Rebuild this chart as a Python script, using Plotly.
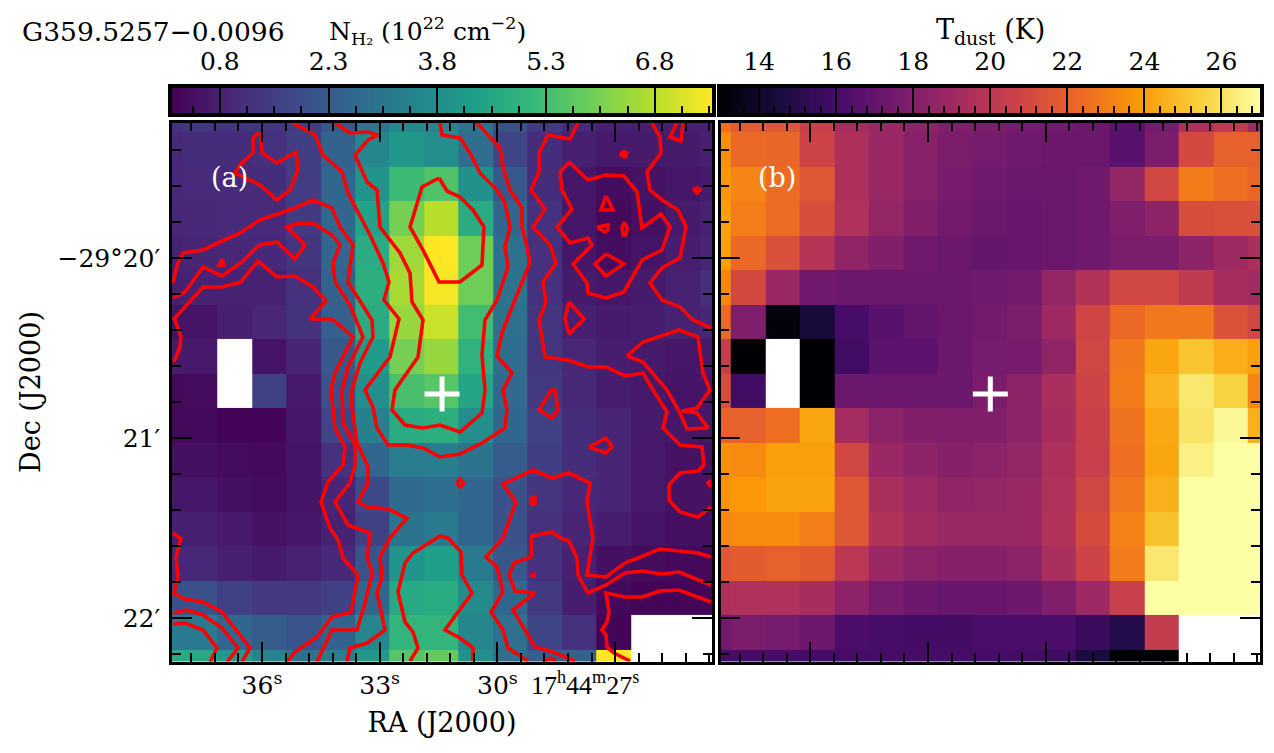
import plotly.graph_objects as go

FONT = "DejaVu Serif"
PAGE_W, PAGE_H = 1274, 753
BODY = 8                       # page margin the browser puts round the figure
W, H = PAGE_W - BODY, PAGE_H - BODY

# Sky positions of the map cells (RA seconds of 17h44m, Dec arcmin from -29d20')
ra_cells = [38.46, 37.58, 36.70, 35.82, 34.94, 34.06, 33.18, 32.31, 31.43, 30.55, 29.67, 28.79, 27.91, 27.03, 26.15, 25.27, 24.39]
dec_cells = [0.794, 0.603, 0.411, 0.219, 0.028, -0.164, -0.356, -0.547, -0.739, -0.931, -1.122, -1.314, -1.506, -1.697, -1.889, -2.081, -2.272]

n = None
nh2 = [
 [1.2,1.35,1.3,1.3,1.5,2.2,3.1,3.7,3.6,3.0,2.0,1.4,1.0,.8,.75,.75,.8],
 [1.0,1.1,1.1,1.2,1.55,2.5,3.6,4.1,3.8,2.8,1.7,1.1,.8,.65,.7,.7,.8],
 [1.0,1.05,1.05,1.1,1.5,2.6,4.0,5.2,5.5,3.9,2.2,1.1,.6,.4,.5,.6,.7],
 [.95,1.0,1.05,1.05,1.45,2.6,4.4,6.0,6.8,4.7,2.6,1.2,.6,.3,.45,.7,.85],
 [.85,.9,.95,1.0,1.3,2.6,4.7,6.5,7.6,5.9,2.9,1.2,.6,.4,.55,.75,.9],
 [.8,.85,.85,.85,1.2,2.5,4.8,6.6,7.5,5.9,3.0,1.2,.7,.6,.7,.85,1.15],
 [.5,.55,.8,.95,1.25,2.4,4.7,6.4,7.0,5.3,2.9,1.3,.8,.7,.75,.85,.9],
 [.7,.65,n,.55,.9,2.2,4.2,6.0,6.4,4.9,2.8,1.3,.95,.75,.7,.6,.65],
 [.3,.35,n,1.6,.65,2.0,3.8,5.4,5.6,4.5,2.7,1.4,1.0,.75,.65,.55,.6],
 [.3,.3,.2,.2,.6,1.7,3.4,4.7,4.8,3.8,2.6,1.6,1.1,.9,.7,.6,.6],
 [.45,.45,.35,.3,.55,1.2,2.6,3.3,3.3,3.0,2.3,1.55,1.1,.9,.65,.5,.5],
 [.6,.6,.45,.35,.55,.9,1.8,2.7,2.8,2.6,2.0,1.3,1.0,.9,.65,.5,.5],
 [.8,.8,.65,.5,.6,.85,1.6,3.0,3.2,2.6,2.0,1.2,.9,.75,.55,.45,.45],
 [1.0,1.0,.8,.7,.85,1.0,2.1,4.0,4.3,3.2,2.2,1.2,.8,.45,.35,.3,.3],
 [2.0,2.0,1.6,1.4,1.4,1.6,2.6,4.6,4.7,3.7,2.6,1.4,.75,.3,.2,.2,.2],
 [3.2,3.2,2.6,2.3,2.1,2.5,3.6,5.0,5.0,3.6,2.9,1.7,1.2,.2,n,n,n],
 [4.7,4.6,4.2,3.5,2.9,3.3,4.1,5.6,5.8,3.9,2.8,2.3,2.5,9.0,n,n,n],
]
tdust = [
 [22.5,21.8,21.6,20.5,19.3,18.8,18.4,18.0,17.8,17.6,17.4,17.2,16.6,17.6,19.5,20.2,19.0],
 [23.5,22.3,22.2,20.7,19.5,18.8,18.2,17.8,17.6,17.4,17.3,17.2,16.6,17.8,21.0,22.0,22.0],
 [23.8,23.2,22.4,21.6,19.5,18.8,18.2,17.7,17.4,17.2,17.2,17.4,18.6,20.9,22.9,22.5,22.2],
 [24.0,23.0,22.4,21.2,19.6,18.6,18.0,17.5,17.2,17.1,17.2,17.4,17.9,18.4,21.2,21.3,21.3],
 [24.0,22.3,21.3,19.8,18.5,18.0,17.4,17.2,17.0,17.1,17.2,17.4,17.8,17.8,18.4,19.0,19.4],
 [23.3,21.0,18.8,17.4,17.2,17.2,17.2,17.2,17.4,17.5,18.6,19.7,20.9,20.9,20.2,19.3,19.1],
 [22.3,17.9,13.2,14.4,16.0,16.6,17.0,17.2,17.5,17.8,19.0,20.8,22.3,22.8,22.8,21.4,20.9],
 [20.4,13.0,n,13.0,15.8,16.7,16.7,17.2,17.6,17.7,18.5,20.9,22.8,24.2,25.1,24.4,24.0],
 [21.2,15.8,n,13.0,17.2,17.2,17.2,17.2,17.8,18.4,19.4,20.7,22.9,24.6,26.2,25.5,23.2],
 [22.0,22.0,22.5,24.2,19.2,18.3,18.0,17.9,18.0,18.4,19.3,20.6,22.6,24.3,26.1,26.8,24.5],
 [23.5,23.4,24.0,24.0,20.9,18.8,18.4,18.1,18.3,18.6,19.5,20.5,22.5,24.2,26.5,27.0,27.0],
 [23.6,23.8,24.1,24.1,21.6,19.4,18.9,18.5,18.6,18.8,19.6,20.9,22.8,24.5,27.0,27.0,27.0],
 [23.2,23.4,23.4,23.0,21.6,19.7,19.1,18.8,18.8,18.8,19.7,21.1,23.1,25.0,27.0,27.0,27.0],
 [21.6,21.8,22.0,21.8,20.0,18.8,18.3,18.1,18.1,18.3,19.4,20.7,22.9,26.2,27.0,27.0,27.0],
 [19.5,19.6,19.6,19.3,18.4,17.6,17.3,17.1,17.1,17.3,17.9,18.9,20.5,27.0,27.0,27.0,27.0],
 [17.4,17.8,17.6,17.3,16.2,16.0,15.9,15.9,16.2,16.2,16.2,15.6,14.9,20.3,n,n,n],
 [16.0,16.0,16.0,16.0,16.0,16.0,16.0,16.0,16.0,15.9,15.7,14.5,13.0,13.0,n,n,n],
]

# Contour vertices in map sub-pixels (1/3 arcsec) from the map's top-left corner
contour_paths = [
 [(121,1),(143,13),(151,33),(170,50),(176,71),(198,113),(211,141),(217,160),(212,178),(227,197),(218,235),(193,268),(201,285),(205,306),(216,323),(235,323),(251,326),(268,335),(288,332),(310,321),(333,306),(335,288),(331,268),(340,251),(325,234),(330,211),(340,185),(348,165),(358,141),(355,125),(350,105),(350,86),(338,68),(331,45),(328,26),(305,1)],
 [(163,1),(178,11),(196,10),(206,13),(196,18),(183,33),(195,60),(205,68),(208,105),(228,131),(238,151),(240,180),(251,198),(246,235),(223,268),(220,288),(233,303),(251,306),(268,303),(288,310),(310,291),(313,268),(310,233),(313,198),(325,178),(336,145),(333,125),(338,105),(333,81),(325,68),(308,51),(298,31),(288,16),(270,13),(268,1)],
 [(267,56),(250,65),(238,105),(251,128),(267,160),(288,160),(310,143),(312,105),(301,88),(288,75),(275,69),(267,56)],
 [(1,161),(5,143),(11,131),(31,128),(48,120),(68,111),(88,98),(123,86),(141,78),(160,86),(168,105),(181,123),(176,160),(200,198),(201,215),(188,241),(180,268),(180,286),(185,321),(196,345),(196,361),(186,380),(195,385),(216,387),(235,396),(218,416),(208,435),(210,455),(205,471),(213,508),(195,521),(178,526),(175,540)],
 [(1,176),(13,170),(31,145),(50,154),(70,140),(87,123),(105,120),(123,137),(133,123),(115,105),(123,102),(141,101),(160,113),(168,123),(161,141),(163,160),(178,183),(191,215),(176,245),(170,268),(171,301),(183,323),(183,343),(178,361),(163,380),(176,403),(198,411),(195,435),(200,451),(193,481),(185,508),(160,508),(145,540)],
 [(1,198),(31,165),(50,165),(69,160),(86,139),(105,155),(123,154),(141,165),(154,179),(138,197),(160,197),(181,215),(163,251),(159,268),(163,306),(173,325),(171,343),(156,360),(149,380),(158,406),(166,418),(171,436),(186,453),(179,490),(160,495),(145,515),(123,530),(115,540)],
 [(3,198),(9,215),(8,225),(2,240)],
 [(1,411),(9,417),(4,435),(6,455),(2,471),(13,477),(31,480),(50,490),(78,526),(70,540)],
 [(1,491),(15,488),(31,493),(50,506),(66,526),(55,540)],
 [(1,502),(13,501),(31,508),(45,526),(38,540)],
 [(50,137),(52,143),(47,143),(50,137)],
 [(86,11),(81,16),(81,31),(68,43),(63,51),(88,63),(105,78),(118,68),(126,48),(124,30),(105,41),(90,31),(89,13),(86,11)],
 [(406,1),(398,17),(376,13),(367,31),(367,50),(359,68),(373,87),(361,105),(378,123),(384,141),(371,160),(374,180),(367,198),(373,235),(396,238),(416,245),(434,245),(453,254),(471,251),(481,268),(495,290),(491,306),(508,323),(530,325),(532,343),(526,349),(508,351),(497,363),(497,378),(508,390),(526,395),(539,385)],
 [(480,1),(488,15),(489,31),(475,50),(478,68),(490,78),(506,88),(514,105),(508,136),(490,146),(478,161),(490,178),(508,185),(521,198),(539,206)],
 [(397,40),(388,50),(390,68),(400,87),(385,105),(398,121),(416,116),(420,123),(401,142),(415,161),(416,171),(434,176),(452,170),(470,138),(490,128),(498,105),(489,92),(470,106),(465,70),(452,54),(434,53),(416,58),(397,40)],
 [(434,74),(429,88),(441,88),(434,74)],
 [(425,105),(436,103),(436,108),(433,110),(425,105)],
 [(452,100),(455,106),(454,113),(451,113),(450,106),(452,100)],
 [(434,132),(452,142),(434,154),(423,142),(434,132)],
 [(397,180),(412,197),(397,212),(393,197),(397,180)],
 [(450,29),(455,31),(453,35),(449,33),(450,29)],
 [(524,65),(528,68),(525,71),(522,68),(524,65)],
 [(505,1),(498,15),(509,19),(511,1)],
 [(455,234),(471,220),(507,208),(526,215),(531,251),(538,268),(525,286),(510,289),(525,291),(536,306),(515,307),(507,289),(495,268),(471,240),(455,234)],
 [(380,267),(367,288),(380,296),(386,288),(383,268),(380,267)],
 [(417,325),(434,316),(440,325),(434,331),(417,325)],
 [(285,361),(288,357),(292,361),(288,365),(285,361)],
 [(359,375),(363,375),(363,382),(359,382),(359,375)],
 [(360,452),(362,452),(362,454),(360,454),(360,452)],
 [(356,539),(336,526),(331,508),(319,490),(331,470),(325,445),(314,435),(331,416),(344,380),(331,362),(361,348),(380,356),(397,351),(418,361),(415,380),(421,416),(415,453),(434,455),(453,441),(488,427),(526,431),(539,435)],
 [(403,539),(381,530),(363,525),(356,513),(341,488),(363,471),(343,469),(337,453),(342,441),(359,435),(360,414),(380,410),(388,416),(397,419),(405,436),(406,453),(416,471),(434,463),(453,451),(470,449),(490,452),(507,450),(539,463)],
 [(539,480),(507,468),(488,469),(470,475),(453,475),(434,471),(437,490),(435,500),(430,508),(434,513),(435,525),(442,531),(458,539)],
 [(539,358),(536,361),(539,365)],
 [(373,539),(379,536),(384,539)],
 [(238,539),(246,526),(241,510),(233,500),(226,470),(233,441),(241,431),(268,414),(276,416),(289,430),(290,453),(300,471),(273,508),(288,516),(301,526),(301,539)],
]

# Source position and axes
source_ra, source_dec = 31.41, -0.7556
ra_range = [38.294, 24.529]
dec_range = [-2.2417, 0.7528]
ra_ticks = [36, 33, 30, 27]
ra_labels = ["36<sup>s</sup>", "33<sup>s</sup>", "30<sup>s</sup>", ""]
dec_ticks = [0, -1, -2]
dec_labels = ["\u221229\u00b020\u2032", "21\u2032", "22\u2032"]
n_range = [0.14, 7.59]
n_ticks = [0.8, 2.3, 3.8, 5.3, 6.8]
n_minor = [0.425, 1.175, 1.55, 1.925, 2.675, 3.05, 3.425, 4.175, 4.55, 4.925, 5.675, 6.05, 6.425, 7.175, 7.55]
t_range = [13, 27]
t_ticks = [14, 16, 18, 20, 22, 24, 26]
t_minor = [14.4, 14.8, 15.2, 15.6, 16.4, 16.8, 17.2, 17.6, 18.4, 18.8, 19.2, 19.6, 20.4, 20.8, 21.2, 21.6, 22.4, 22.8, 23.2, 23.6, 24.4, 24.8, 25.2, 25.6, 26.4, 26.8, 13.2, 13.6]

def ramp(r, steps=180):
    return [r[0] + (r[1] - r[0]) * (i + 0.5) / steps for i in range(steps)]

def px(x):
    return (x - BODY) / W

def py(y):
    return 1 - (y - BODY) / H

def dx(a, b):
    return [px(a), px(b)]

def dy(top, bottom):
    return [py(bottom), py(top)]

fig = go.Figure()
fig.add_trace(go.Heatmap(x=ra_cells, y=dec_cells, z=nh2, colorscale="viridis", zmin=n_range[0], zmax=n_range[1],
                         showscale=False, xaxis="x", yaxis="y", hoverongaps=False))
cx, cy = [], []
for p in contour_paths:
    cx += [ra_range[0] - u / 39.23 for u, v in p] + [None]
    cy += [(258 - 122) / 180 - v / 180 for u, v in p] + [None]
fig.add_trace(go.Scatter(x=cx, y=cy, mode="lines", line=dict(color="#ff0000", width=3.6), xaxis="x", yaxis="y",
                         hoverinfo="skip", showlegend=False))
fig.add_trace(go.Heatmap(x=ra_cells, y=dec_cells, z=tdust, colorscale="inferno", zmin=t_range[0], zmax=t_range[1],
                         showscale=False, xaxis="x2", yaxis="y2", hoverongaps=False))
for xa, ya in (("x", "y"), ("x2", "y2")):
    fig.add_trace(go.Scatter(x=[source_ra], y=[source_dec], mode="markers", xaxis=xa, yaxis=ya, showlegend=False,
                             marker=dict(symbol="cross-thin", size=25, line=dict(color="white", width=5))))

# colour bars
nr = ramp(n_range); tr = ramp(t_range)
fig.add_trace(go.Heatmap(x=nr, y=[0.5], z=[nr], colorscale="viridis", zmin=n_range[0], zmax=n_range[1],
                         showscale=False, xaxis="x3", yaxis="y3", hoverinfo="skip"))
fig.add_trace(go.Heatmap(x=tr, y=[0.5], z=[tr], colorscale="inferno", zmin=t_range[0], zmax=t_range[1],
                         showscale=False, xaxis="x4", yaxis="y4", hoverinfo="skip"))
fig.add_trace(go.Scatter(x=n_range, y=[0, 0], mode="none", xaxis="x5", yaxis="y3", showlegend=False, hoverinfo="skip"))
fig.add_trace(go.Scatter(x=t_range, y=[0, 0], mode="none", xaxis="x6", yaxis="y4", showlegend=False, hoverinfo="skip"))

TF = dict(family=FONT, size=25, color="black")
LF = dict(family=FONT, size=27, color="black")
def sky_x(domain, anchor, labels, ticktext, title=None):
    d = dict(domain=domain, anchor=anchor, range=ra_range, showgrid=False, zeroline=False, showline=True,
             linecolor="black", linewidth=2.6, mirror="ticks", ticks="inside", ticklen=20, tickwidth=1.8,
             tickcolor="black", tickvals=ra_ticks, ticktext=ticktext, showticklabels=labels, tickfont=TF,
             tickangle=0,
             minor=dict(ticks="inside", ticklen=9, tickwidth=1.8, tickcolor="black", dtick=0.6, tick0=0))
    if title:
        d["title"] = dict(text=title, font=LF, standoff=14)
    return d

def sky_y(domain, anchor, labels):
    d = dict(domain=domain, anchor=anchor, range=dec_range, showgrid=False, zeroline=False, showline=True,
             linecolor="black", linewidth=2.6, mirror="ticks", ticks="inside", ticklen=20, tickwidth=1.8,
             tickcolor="black", tickvals=dec_ticks, ticktext=dec_labels, showticklabels=labels, tickfont=TF,
             ticklabelstandoff=4,
             minor=dict(ticks="inside", ticklen=9, tickwidth=1.8, tickcolor="black", dtick=0.2, tick0=0))
    return d

def bar_top(domain, anchor, rng, ticks):
    return dict(domain=domain, anchor=anchor, side="top", range=rng, showgrid=False, zeroline=False, showline=True,
                linecolor="black", linewidth=3.6, mirror=True, ticks="inside", ticklen=25, tickwidth=1.6,
                tickcolor="black", tickvals=ticks, ticktext=[str(t) for t in ticks], tickfont=TF, tickangle=0,
                ticklabelstandoff=4)

def bar_bottom(over, anchor, rng, minor):
    return dict(overlaying=over, anchor=anchor, side="bottom", range=rng, showgrid=False, zeroline=False,
                showline=True, linecolor="black", linewidth=3.6,
                ticks="inside", ticklen=7, tickwidth=1.6, tickcolor="black", tickvals=minor, showticklabels=False)

def bar_y(domain, anchor):
    return dict(domain=domain, anchor=anchor, range=[0, 1], showticklabels=False, ticks="", showgrid=False,
                zeroline=False, showline=True, linecolor="black", linewidth=3.6, mirror=True)

A = dx(172, 712); B = dx(720.5, 1260); MAIN = dy(122.5, 661.5); BAR = dy(88, 113)
fig.update_layout(
    width=W, height=H, autosize=False, margin=dict(l=0, r=0, t=0, b=0),
    paper_bgcolor="white", plot_bgcolor="white", showlegend=False, font=dict(family=FONT, color="black"),
    xaxis=sky_x(A, "y", True, ra_labels, "RA (J2000)"), yaxis=sky_y(MAIN, "x", True),
    xaxis2=sky_x(B, "y2", False, ra_labels), yaxis2=sky_y(MAIN, "x2", False),
    xaxis3=bar_top(A, "y3", n_range, n_ticks), yaxis3=bar_y(BAR, "x3"),
    xaxis4=bar_top(B, "y4", t_range, t_ticks), yaxis4=bar_y(BAR, "x4"),
    xaxis5=bar_bottom("x3", "y3", n_range, n_minor),
    xaxis6=bar_bottom("x4", "y4", t_range, t_minor),
    annotations=[
        dict(text="G359.5257\u22120.0096", xref="paper", yref="paper", x=px(20), y=py(31), xanchor="left", yanchor="middle", showarrow=False, font=dict(family=FONT, size=26.5, color="black")),
        dict(text="N<sub>H\u2082</sub> (10<sup>22</sup> cm<sup>\u22122</sup>)", xref="paper", yref="paper", x=px(427), y=py(31), xanchor="center", yanchor="middle", showarrow=False, font=TF),
        dict(text="T<sub>dust</sub> (K)", xref="paper", yref="paper", x=px(990), y=py(31), xanchor="center", yanchor="middle", showarrow=False, font=LF),
        dict(text="Dec (J2000)", xref="paper", yref="paper", x=px(30), y=py(392), xanchor="center", yanchor="middle", textangle=-90, showarrow=False, font=LF),
        dict(text="17<sup>h</sup>44<sup>m</sup>27<sup>s</sup>", xref="x", yref="paper", x=27, y=py(683), xanchor="right", yanchor="middle", xshift=26, showarrow=False, font=dict(family="Liberation Serif", size=26, color="black")),
        dict(text="(a)", xref="x", yref="y", x=36.84, y=0.45, showarrow=False, font=dict(family=FONT, size=27, color="white")),
        dict(text="(b)", xref="x2", yref="y2", x=36.84, y=0.45, showarrow=False, font=dict(family=FONT, size=27, color="white")),
    ],
)
fig.write_html("out.html")
